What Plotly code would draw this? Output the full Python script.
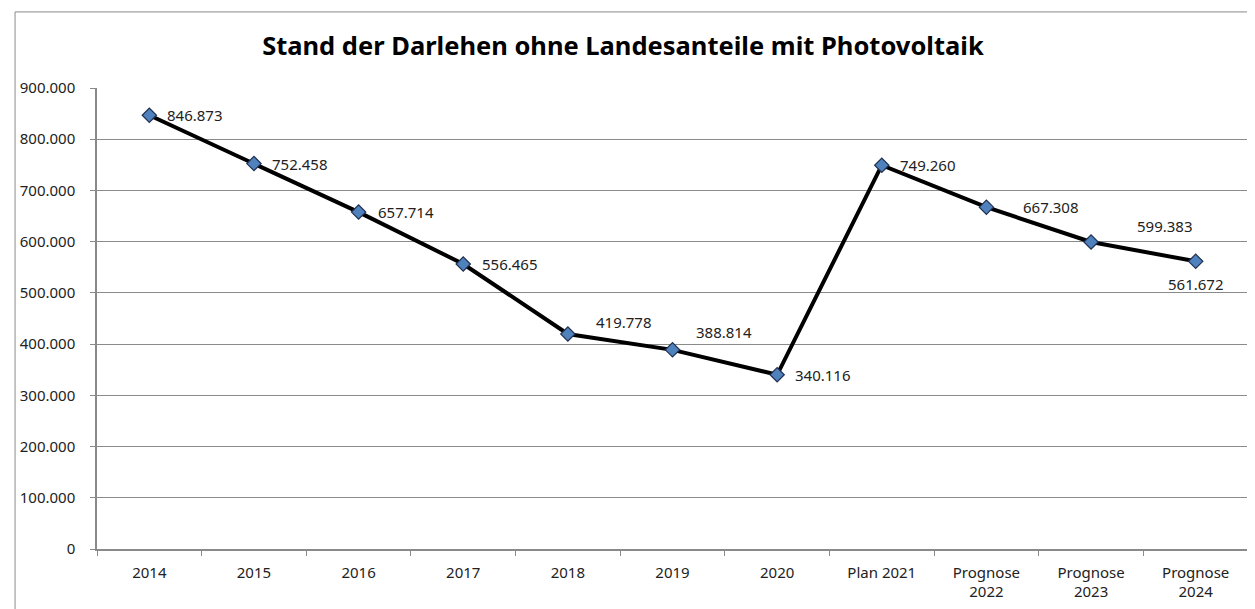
import plotly.graph_objects as go

categories = ["2014", "2015", "2016", "2017", "2018", "2019", "2020",
              "Plan 2021", "Prognose<br>2022", "Prognose<br>2023", "Prognose<br>2024"]
values = [846873, 752458, 657714, 556465, 419778, 388814, 340116,
          749260, 667308, 599383, 561672]
# label offsets (px) relative to each point
label_dx = [16, 16, 17, 17, 26, 21, 16, 16, 35, 44, 0]
label_dy = [0, 0, 0, 0, 12, 18, 0, 0, 0, 16, -23]
label_anchor = ["left"] * 10 + ["center"]

FONT = "Noto Sans"
pos = list(range(len(categories)))

fig = go.Figure()
fig.add_trace(go.Scatter(
    x=pos, y=values, mode="lines+markers",
    line=dict(color="black", width=4),
    marker=dict(symbol="diamond", size=11, color="#4F81BD",
                line=dict(color="#1F2F4F", width=1.2)),
    showlegend=False, hoverinfo="y",
))

def fmt(v):
    return f"{v:,}".replace(",", ".")

for p, v, dx, dy, a in zip(pos, values, label_dx, label_dy, label_anchor):
    fig.add_annotation(x=p, y=v, text=fmt(v), showarrow=False,
                       xanchor=a, yanchor="middle", xshift=dx, yshift=dy,
                       font=dict(family=FONT, size=15, color="#222"))

fig.add_shape(type="rect", xref="paper", yref="paper",
              x0=-0.0712, x1=1.03, y0=-0.2, y1=1.165,
              line=dict(color="#8a8a8a", width=1), layer="below")

fig.update_layout(
    width=1255, height=609,
    margin=dict(l=89, r=15, t=80, b=68),
    paper_bgcolor="white", plot_bgcolor="white",
    separators=",.",
    title=dict(text="<b>Stand der Darlehen ohne Landesanteile mit Photovoltaik</b>",
               x=0.49, xanchor="center", y=0.937, yanchor="middle",
               font=dict(family=FONT, size=25.5, color="black")),
    font=dict(family=FONT, size=15, color="#222"),
)
fig.update_xaxes(
    range=[-0.5, len(categories) - 0.5],
    tickmode="array", tickvals=pos, ticktext=categories, ticks="",
    ticklabelstandoff=9,
    showline=True, linecolor="#8a8a8a", linewidth=1.5,
    showgrid=False, zeroline=False,
    tickfont=dict(family=FONT, size=15, color="#222"),
    minor=dict(tickmode="array",
               tickvals=[p - 0.5 for p in pos] + [pos[-1] + 0.5],
               ticks="outside", ticklen=5, tickcolor="#8a8a8a",
               showgrid=False),
)
fig.update_yaxes(
    range=[0, 900000], dtick=100000, tickformat=",d",
    showline=True, linecolor="#8a8a8a", linewidth=1.5,
    ticks="outside", ticklen=5, tickcolor="#8a8a8a",
    ticklabelstandoff=12,
    showgrid=True, gridcolor="#8a8a8a", gridwidth=1.2,
    zeroline=False, tickfont=dict(family=FONT, size=15, color="#222"),
)

fig.write_html("out.html")
